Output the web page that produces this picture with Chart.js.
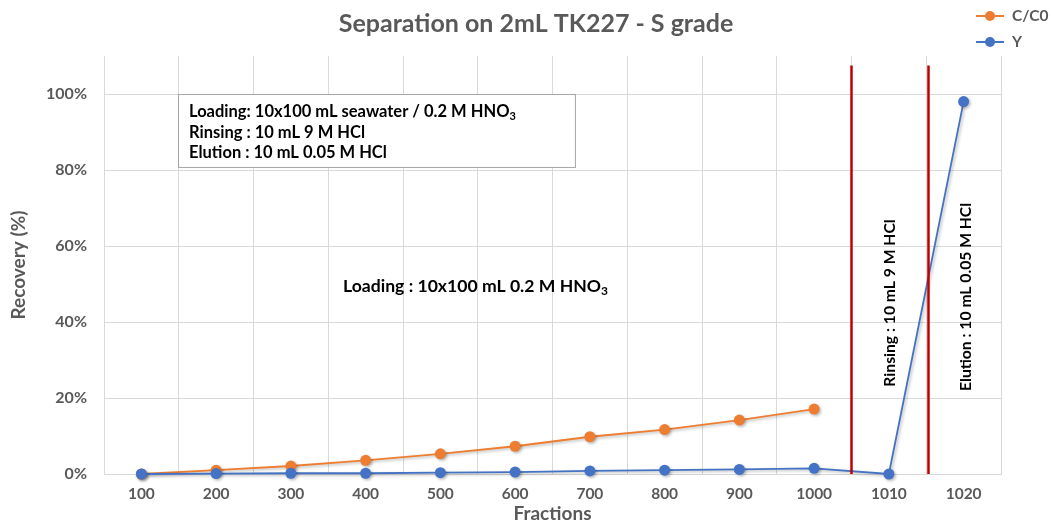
<!DOCTYPE html>
<html>
<head>
<meta charset="utf-8">
<script src="https://cdn.jsdelivr.net/npm/chart.js@4/dist/chart.umd.min.js"></script>
<style>
  html, body { margin: 0; padding: 0; background: #ffffff; }
  #wrap { width: 1052px; height: 524px; position: relative; }
</style>
</head>
<body>
<div id="wrap"><canvas id="c" width="1052" height="524"></canvas></div>
<script>
// ---- Data ----
const categories = ['100', '200', '300', '400', '500', '600', '700', '800', '900', '1000', '1010', '1020'];
const seriesNames = ['C/C0', 'Y'];
const cc0Values = [0, 0.010, 0.021, 0.036, 0.053, 0.073, 0.098, 0.117, 0.142, 0.171, null, null];
const yValues = [0, 0.001, 0.002, 0.002, 0.0035, 0.005, 0.008, 0.010, 0.012, 0.015, 0, 0.98];
const yTickValues = [0, 0.2, 0.4, 0.6, 0.8, 1.0];

const titleText = 'Separation on 2mL TK227 - S grade';
const xTitle = 'Fractions';
const yTitle = 'Recovery (%)';
const boxLines = [
  [['Loading: 10x100 mL seawater / 0.2 M HNO', false], ['3', true]],
  [['Rinsing : 10 mL 9 M HCl', false]],
  [['Elution : 10 mL 0.05 M HCl', false]]
];
const loadingLabel = [['Loading : 10x100 mL 0.2 M HNO', false], ['3', true]];
const rinsingLabel = 'Rinsing : 10 mL 9 M HCl';
const elutionLabel = 'Elution : 10 mL 0.05 M HCl';

const ORANGE = '#ED7D31';
const BLUE = '#4472C4';
const GRAY = '#595959';
const GRID = '#D9D9D9';
const FONT = 'Lato';

function drawRich(ctx, parts, x, y, size) {
  let cx = x;
  for (const [t, sub] of parts) {
    ctx.font = 'bold ' + (sub ? Math.round(size * 0.68) : size) + 'px ' + FONT;
    ctx.fillText(t, cx, sub ? y + size * 0.28 : y);
    cx += ctx.measureText(t).width;
  }
}

const shadowPlugin = {
  id: 'shadow',
  beforeDatasetsDraw(chart) {
    const ctx = chart.ctx;
    ctx.save();
    ctx.shadowColor = 'rgba(0,0,0,0.28)';
    ctx.shadowBlur = 3;
    ctx.shadowOffsetX = 1.5;
    ctx.shadowOffsetY = 1.5;
  },
  afterDatasetsDraw(chart) {
    chart.ctx.restore();
  }
};

const annotPlugin = {
  id: 'annot',
  afterDraw(chart) {
    const ctx = chart.ctx;
    const xs = chart.scales.x, ys = chart.scales.y;
    ctx.save();
    // Title
    ctx.fillStyle = GRAY;
    ctx.font = 'bold 25px ' + FONT;
    ctx.textAlign = 'center';
    ctx.textBaseline = 'middle';
    ctx.fillText(titleText, 536, 24);

    // Legend
    const legY = [16, 42];
    chart.data.datasets.forEach((ds, i) => {
      const y = legY[i];
      ctx.strokeStyle = ds.borderColor;
      ctx.lineWidth = 2;
      ctx.beginPath(); ctx.moveTo(976, y); ctx.lineTo(1004, y); ctx.stroke();
      ctx.fillStyle = ds.borderColor;
      ctx.beginPath(); ctx.arc(990, y, 5, 0, Math.PI * 2); ctx.fill();
      ctx.fillStyle = GRAY;
      ctx.font = 'bold 15.5px ' + FONT;
      ctx.textAlign = 'left';
      ctx.textBaseline = 'middle';
      ctx.fillText(ds.label, 1012, y);
    });

    // Red separator lines
    ctx.strokeStyle = '#C00000';
    ctx.lineWidth = 2.5;
    const yTop = ys.getPixelForValue(1.075), yBot = ys.getPixelForValue(0);
    [9.5, 10.53].forEach(v => {
      const x = xs.getPixelForValue(v);
      ctx.beginPath(); ctx.moveTo(x, yTop); ctx.lineTo(x, yBot); ctx.stroke();
    });

    // Info box
    const bx0 = xs.getPixelForValue(0.49), bx1 = xs.getPixelForValue(5.8);
    const by0 = ys.getPixelForValue(1.0), by1 = ys.getPixelForValue(0.808);
    ctx.fillStyle = '#ffffff';
    ctx.fillRect(bx0, by0, bx1 - bx0, by1 - by0);
    ctx.strokeStyle = '#A6A6A6';
    ctx.lineWidth = 1;
    ctx.strokeRect(bx0 + 0.5, by0 + 0.5, bx1 - bx0, by1 - by0);
    ctx.fillStyle = '#000000';
    ctx.textAlign = 'left';
    ctx.textBaseline = 'middle';
    boxLines.forEach((parts, i) => drawRich(ctx, parts, bx0 + 11, by0 + 18 + i * 20.5, 16.5));

    // Loading label
    drawRich(ctx, loadingLabel, 343, ys.getPixelForValue(0.495), 17.6);

    // Rotated labels
    ctx.font = 'bold 15.7px ' + FONT;
    ctx.textAlign = 'center';
    ctx.textBaseline = 'middle';
    [[rinsingLabel, 10.02, 0.45], [elutionLabel, 11.03, 0.466]].forEach(([t, idx, v]) => {
      ctx.save();
      ctx.translate(xs.getPixelForValue(idx), ys.getPixelForValue(v));
      ctx.rotate(-Math.PI / 2);
      ctx.fillText(t, 0, 0);
      ctx.restore();
    });
    ctx.restore();
  }
};

new Chart(document.getElementById('c'), {
  type: 'line',
  data: {
    labels: categories,
    datasets: [
      {
        label: seriesNames[0], data: cc0Values,
        borderColor: ORANGE, backgroundColor: ORANGE,
        borderWidth: 1.8, pointRadius: 5.5, pointHoverRadius: 5.5,
        pointBorderWidth: 0, clip: false, order: 2, spanGaps: false
      },
      {
        label: seriesNames[1], data: yValues,
        borderColor: BLUE, backgroundColor: BLUE,
        borderWidth: 1.8, pointRadius: 5.5, pointHoverRadius: 5.5,
        pointBorderWidth: 0, clip: false, order: 1
      }
    ]
  },
  options: {
    responsive: false,
    animation: false,
    events: [],
    layout: { padding: { top: 56, right: 51, left: 0, bottom: 0 } },
    plugins: {
      legend: { display: false },
      title: { display: false },
      tooltip: { enabled: false }
    },
    scales: {
      x: {
        type: 'category',
        offset: true,
        grid: { offset: true, color: GRID, lineWidth: 1, drawTicks: false },
        border: { color: GRID },
        ticks: { color: GRAY, font: { family: FONT, size: 15.5, weight: 'bold' }, padding: 11, maxRotation: 0, autoSkip: false },
        title: { display: true, text: xTitle, color: GRAY, font: { family: FONT, size: 19, weight: 'bold' }, padding: { top: 0, bottom: -1 } },
        afterFit(scale) { scale.height = 50; }
      },
      y: {
        min: 0, max: 1.1,
        grid: { color: GRID, lineWidth: 1, drawTicks: false },
        border: { display: false },
        ticks: {
          color: GRAY, font: { family: FONT, size: 16, weight: 'bold' }, padding: 17,
          callback: v => Math.round(v * 100) + '%'
        },
        afterBuildTicks(scale) { scale.ticks = yTickValues.map(v => ({ value: v })); },
        title: { display: true, text: yTitle, color: GRAY, font: { family: FONT, size: 19, weight: 'bold' }, padding: { top: 7, bottom: 0 } },
        afterFit(scale) { scale.width = 104; }
      }
    }
  },
  plugins: [shadowPlugin, annotPlugin]
});
</script>
</body>
</html>
